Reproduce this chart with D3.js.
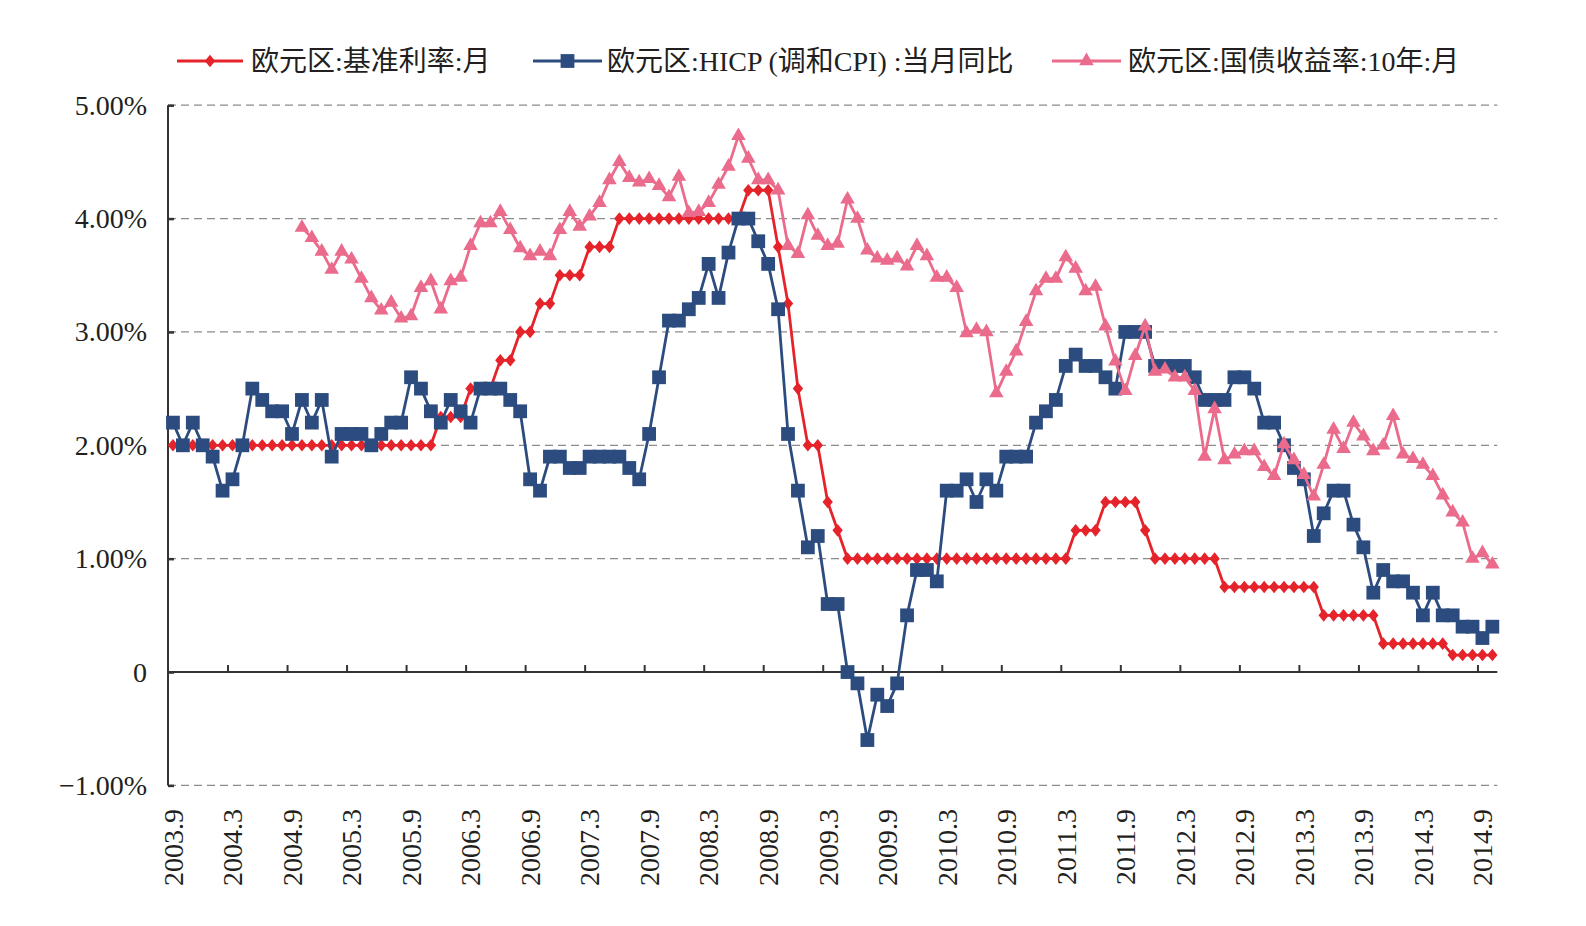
<!DOCTYPE html>
<html><head><meta charset="utf-8">
<script src="https://cdn.jsdelivr.net/npm/d3@7"></script>
<style>html,body{margin:0;padding:0;background:#fff;}</style>
</head><body>
<svg id="chart" width="1586" height="926"></svg>
<script>
// ---- Data ----
const months = [
 "2003.9","2003.10","2003.11","2003.12",
 "2004.1","2004.2","2004.3","2004.4","2004.5","2004.6","2004.7","2004.8","2004.9","2004.10","2004.11","2004.12",
 "2005.1","2005.2","2005.3","2005.4","2005.5","2005.6","2005.7","2005.8","2005.9","2005.10","2005.11","2005.12",
 "2006.1","2006.2","2006.3","2006.4","2006.5","2006.6","2006.7","2006.8","2006.9","2006.10","2006.11","2006.12",
 "2007.1","2007.2","2007.3","2007.4","2007.5","2007.6","2007.7","2007.8","2007.9","2007.10","2007.11","2007.12",
 "2008.1","2008.2","2008.3","2008.4","2008.5","2008.6","2008.7","2008.8","2008.9","2008.10","2008.11","2008.12",
 "2009.1","2009.2","2009.3","2009.4","2009.5","2009.6","2009.7","2009.8","2009.9","2009.10","2009.11","2009.12",
 "2010.1","2010.2","2010.3","2010.4","2010.5","2010.6","2010.7","2010.8","2010.9","2010.10","2010.11","2010.12",
 "2011.1","2011.2","2011.3","2011.4","2011.5","2011.6","2011.7","2011.8","2011.9","2011.10","2011.11","2011.12",
 "2012.1","2012.2","2012.3","2012.4","2012.5","2012.6","2012.7","2012.8","2012.9","2012.10","2012.11","2012.12",
 "2013.1","2013.2","2013.3","2013.4","2013.5","2013.6","2013.7","2013.8","2013.9","2013.10","2013.11","2013.12",
 "2014.1","2014.2","2014.3","2014.4","2014.5","2014.6","2014.7","2014.8","2014.9","2014.10"
];

const tickLabels = ["2003.9","2004.3","2004.9","2005.3","2005.9","2006.3","2006.9","2007.3","2007.9",
 "2008.3","2008.9","2009.3","2009.9","2010.3","2010.9","2011.3","2011.9","2012.3","2012.9",
 "2013.3","2013.9","2014.3","2014.9"];

// 欧元区:基准利率:月
const policyRate = [
 2.0,2.0,2.0,2.0,
 2.0,2.0,2.0,2.0,2.0,2.0,2.0,2.0,2.0,2.0,2.0,2.0,
 2.0,2.0,2.0,2.0,2.0,2.0,2.0,2.0,2.0,2.0,2.0,2.25,
 2.25,2.25,2.5,2.5,2.5,2.75,2.75,3.0,3.0,3.25,3.25,3.5,
 3.5,3.5,3.75,3.75,3.75,4.0,4.0,4.0,4.0,4.0,4.0,4.0,
 4.0,4.0,4.0,4.0,4.0,4.0,4.25,4.25,4.25,3.75,3.25,2.5,
 2.0,2.0,1.5,1.25,1.0,1.0,1.0,1.0,1.0,1.0,1.0,1.0,
 1.0,1.0,1.0,1.0,1.0,1.0,1.0,1.0,1.0,1.0,1.0,1.0,
 1.0,1.0,1.0,1.25,1.25,1.25,1.5,1.5,1.5,1.5,1.25,1.0,
 1.0,1.0,1.0,1.0,1.0,1.0,0.75,0.75,0.75,0.75,0.75,0.75,
 0.75,0.75,0.75,0.75,0.5,0.5,0.5,0.5,0.5,0.5,0.25,0.25,
 0.25,0.25,0.25,0.25,0.25,0.15,0.15,0.15,0.15,0.15
];

// 欧元区:HICP(调和CPI):当月同比
const hicp = [
 2.2,2.0,2.2,2.0,
 1.9,1.6,1.7,2.0,2.5,2.4,2.3,2.3,2.1,2.4,2.2,2.4,
 1.9,2.1,2.1,2.1,2.0,2.1,2.2,2.2,2.6,2.5,2.3,2.2,
 2.4,2.3,2.2,2.5,2.5,2.5,2.4,2.3,1.7,1.6,1.9,1.9,
 1.8,1.8,1.9,1.9,1.9,1.9,1.8,1.7,2.1,2.6,3.1,3.1,
 3.2,3.3,3.6,3.3,3.7,4.0,4.0,3.8,3.6,3.2,2.1,1.6,
 1.1,1.2,0.6,0.6,0.0,-0.1,-0.6,-0.2,-0.3,-0.1,0.5,0.9,
 0.9,0.8,1.6,1.6,1.7,1.5,1.7,1.6,1.9,1.9,1.9,2.2,
 2.3,2.4,2.7,2.8,2.7,2.7,2.6,2.5,3.0,3.0,3.0,2.7,
 2.7,2.7,2.7,2.6,2.4,2.4,2.4,2.6,2.6,2.5,2.2,2.2,
 2.0,1.8,1.7,1.2,1.4,1.6,1.6,1.3,1.1,0.7,0.9,0.8,
 0.8,0.7,0.5,0.7,0.5,0.5,0.4,0.4,0.3,0.4
];

// 欧元区:国债收益率:10年:月 (starts 2004.10)
const bondYield = [
 null,null,null,null,
 null,null,null,null,null,null,null,null,null,3.92,3.83,3.71,
 3.55,3.71,3.64,3.47,3.30,3.19,3.26,3.12,3.14,3.39,3.45,3.20,
 3.45,3.48,3.76,3.96,3.96,4.06,3.90,3.74,3.67,3.71,3.67,3.90,
 4.06,3.93,4.02,4.14,4.34,4.50,4.36,4.32,4.35,4.29,4.19,4.37,
 4.05,4.06,4.14,4.30,4.46,4.73,4.53,4.34,4.34,4.25,3.76,3.69,
 4.03,3.85,3.76,3.78,4.17,4.00,3.72,3.65,3.63,3.65,3.58,3.76,
 3.67,3.48,3.48,3.39,2.99,3.02,3.00,2.46,2.65,2.83,3.09,3.36,
 3.47,3.47,3.66,3.56,3.36,3.40,3.05,2.74,2.48,2.79,3.05,2.65,
 2.67,2.60,2.60,2.48,1.90,2.32,1.87,1.92,1.95,1.95,1.81,1.73,
 2.01,1.87,1.74,1.55,1.83,2.14,1.97,2.20,2.08,1.95,2.00,2.26,
 1.92,1.88,1.83,1.73,1.56,1.41,1.32,1.00,1.05,0.95
];

const yTicks = [-1, 0, 1, 2, 3, 4, 5];
const seriesNames = ["欧元区:基准利率:月", "欧元区:HICP (调和CPI) :当月同比", "欧元区:国债收益率:10年:月"];

// ---- Chart ----
const svg = d3.select("#chart");
const FONT = "'Liberation Serif','Times New Roman','Noto Sans CJK SC',serif";
const textColor = "#231f20";
const colors = ["#e5232b", "#2c4c7f", "#ea6b8b"];

const x = d3.scaleBand().domain(months).range([168, 1497.3]).padding(0);
const cx = m => x(m) + x.bandwidth() / 2;
const xIdx = d3.scaleLinear().domain([0, months.length]).range(x.range());
const y = d3.scaleLinear().domain([-1, 5]).range([785.4, 105.2]);

// gridlines
svg.append("g")
  .selectAll("line")
  .data(yTicks.filter(v => v !== 0))
  .join("line")
  .attr("x1", 168).attr("x2", 1497.3)
  .attr("y1", d => y(d)).attr("y2", d => y(d))
  .attr("stroke", "#8c8c8c").attr("stroke-width", 1.2)
  .attr("stroke-dasharray", "8,5");

// y axis
const fmt = v => v === 0 ? "0" : (v < 0 ? "\u2212" + Math.abs(v).toFixed(2) + "%" : v.toFixed(2) + "%");
const yAxis = svg.append("g")
  .attr("transform", "translate(168,0)")
  .call(d3.axisLeft(y).tickValues(yTicks).tickSize(-6).tickPadding(21).tickFormat(fmt));
yAxis.select(".domain").attr("stroke", "#333").attr("stroke-width", 2).attr("d", `M0,${y(-1)}V${y(5)}`);
yAxis.selectAll(".tick line").attr("stroke", "#333").attr("stroke-width", 2.5);
yAxis.selectAll(".tick text").attr("font-family", FONT).attr("font-size", 28).attr("fill", textColor);

// x axis (zero line with tick marks at category boundaries)
const xAxis = svg.append("g")
  .attr("transform", `translate(0,${y(0)})`)
  .call(d3.axisBottom(xIdx).tickValues(d3.range(6, months.length, 6)).tickSize(-7).tickFormat(""));
xAxis.select(".domain").attr("stroke", "#333").attr("stroke-width", 2).attr("d", `M${xIdx(0)},0H${xIdx(months.length)}`);
xAxis.selectAll(".tick line").attr("stroke", "#333").attr("stroke-width", 2);

// x labels (bottom, rotated)
const xLab = svg.append("g")
  .attr("transform", "translate(0,809)")
  .call(d3.axisBottom(x).tickValues(tickLabels).tickSize(0).tickPadding(0));
xLab.select(".domain").remove();
xLab.selectAll(".tick text")
  .attr("font-family", FONT).attr("font-size", 28).attr("fill", textColor)
  .attr("transform", "rotate(-90)")
  .attr("x", 0).attr("y", 0).attr("dy", "0.35em")
  .attr("text-anchor", "end");

// series
const seriesData = [policyRate, hicp, bondYield];
const line = d3.line()
  .defined(d => d.v !== null)
  .x(d => cx(d.m)).y(d => y(d.v));

const diamond = d3.symbol().type(d3.symbolSquare).size(80);
const square = d3.symbol().type(d3.symbolSquare).size(190);
const triangle = d3.symbol().type(d3.symbolTriangle).size(92);

function markerTransform(k, px, py) {
  if (k === 0) return `translate(${px},${py}) scale(0.82,1) rotate(45)`;
  return `translate(${px},${py})`;
}
const markerPath = [diamond, square, triangle];

seriesData.forEach((arr, k) => {
  const pts = arr.map((v, i) => ({ m: months[i], v }));
  const g = svg.append("g");
  g.append("path").datum(pts)
    .attr("d", line)
    .attr("fill", "none").attr("stroke", colors[k]).attr("stroke-width", 2.8)
    .attr("stroke-linejoin", "round");
  g.selectAll("path.mk").data(pts.filter(d => d.v !== null))
    .join("path").attr("class", "mk")
    .attr("d", markerPath[k]())
    .attr("transform", d => markerTransform(k, cx(d.m), y(d.v)))
    .attr("fill", colors[k]);
});

// legend
const legendItems = [
  { x0: 177, x1: 243, tx: 251 },
  { x0: 533, x1: 602, tx: 607 },
  { x0: 1052, x1: 1121, tx: 1128 }
];
const ly = 61;
const lg = svg.append("g");
legendItems.forEach((it, k) => {
  lg.append("line").attr("x1", it.x0).attr("x2", it.x1).attr("y1", ly).attr("y2", ly)
    .attr("stroke", colors[k]).attr("stroke-width", 2.8);
  const mx = (it.x0 + it.x1) / 2;
  lg.append("path").attr("d", markerPath[k]())
    .attr("transform", markerTransform(k, mx, ly)).attr("fill", colors[k]);
  lg.append("text").attr("x", it.tx).attr("y", ly).attr("dy", "0.35em")
    .attr("font-family", FONT).attr("font-size", 28).attr("fill", textColor)
    .text(seriesNames[k]);
});
</script>
</body></html>
